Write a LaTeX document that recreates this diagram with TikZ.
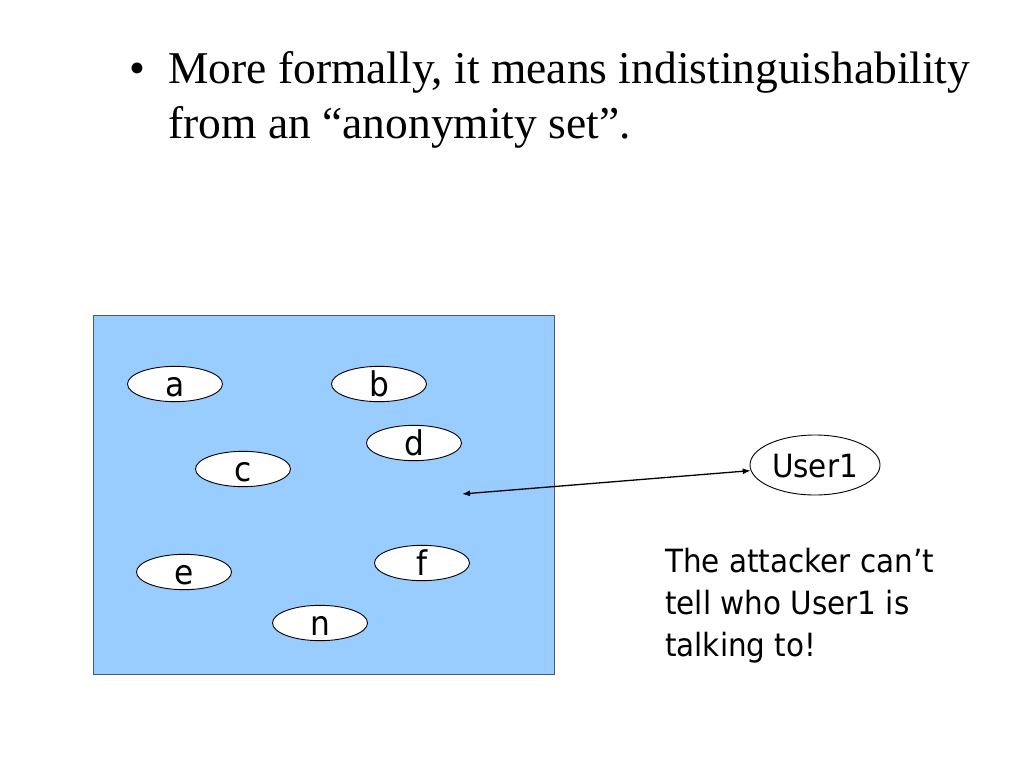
\documentclass[tikz,border=0pt]{standalone}
\usepackage{fontspec}
\setmainfont{Liberation Serif}
\newfontfamily\tah[FakeStretch=0.92]{DejaVu Sans}
\usetikzlibrary{shapes.geometric,arrows.meta}
\definecolor{boxblue}{HTML}{99CCFF}
\definecolor{boxedge}{HTML}{4A5A70}
\tikzset{
  person/.style={ellipse, draw=black, line width=0.9pt, fill=white, inner sep=0pt,
    minimum width=95pt, minimum height=34pt, font=\tah\fontsize{34}{40}\selectfont,
    text height=25pt, text depth=0pt},
  titletext/.style={anchor=base west, inner sep=0pt, font=\fontsize{45.5}{55}\selectfont},
  notetext/.style={anchor=base west, inner sep=0pt, font=\tah\fontsize{32}{42}\selectfont},
  link/.style={line width=1.3pt, {Latex[length=8pt,width=6pt]}-{Latex[length=8pt,width=6pt]}}
}
\begin{document}
\begin{tikzpicture}[x=1pt,y=-1pt]
\useasboundingbox (0,0) rectangle (1024,768);
% title
\node[titletext] (bullet) at (129,83) {\textbullet};
\node[titletext] (t1) at (168,83) {More formally, it means indistinguishability};
\node[titletext] (t2) at (168,138) {from an ``anonymity set''.};
% anonymity set
\draw[fill=boxblue, draw=boxedge, line width=1pt] (93.5,315) rectangle (554.5,674);
\node[person] (a) at (175,384) {a};
\node[person] (b) at (379,384) {b};
\node[person] (d) at (414,443) {d};
\node[person] (c) at (243,469) {c};
\node[person] (e) at (184,572) {e};
\node[person] (f) at (422,563) {f};
\node[person] (n) at (320,623) {n};
% user
\node[person, minimum width=130pt, minimum height=60pt, font=\tah\fontsize{32}{38}\selectfont, text height=24pt] (u) at (815,465) {User1};
\coordinate (p) at (462,494);
\draw[link] (p) -- (u.185);
% note
\node[notetext] (n1) at (665,572) {The attacker can’t};
\node[notetext] (n2) at (665,614) {tell who User1 is};
\node[notetext] (n3) at (665,656) {talking to!};
\end{tikzpicture}
\end{document}
